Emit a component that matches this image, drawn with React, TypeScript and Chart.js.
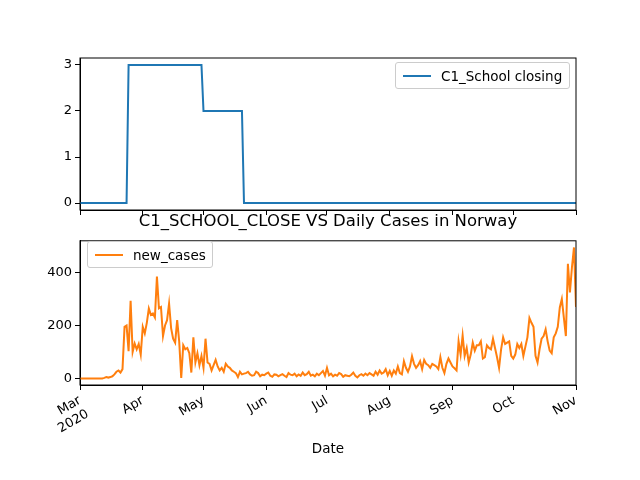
import { useEffect, useRef } from "react";
import { Chart, registerables } from "chart.js";

Chart.register(...registerables);

const MONTH_DAYS = [0, 31, 61, 92, 122, 153, 184, 214, 245];
const MONTH_LABELS = [["Mar", "2020"], "Apr", "May", "Jun", "Jul", "Aug", "Sep", "Oct", "Nov"];

// C1_School closing, as runs of [value, number of days] from 1 Mar 2020
const SCHOOL_RUNS = [[0, 24], [3, 37], [2, 20], [0, 165]];

// new_cases per day from 1 Mar 2020 to 1 Nov 2020
const NEW_CASES = [
  0, 0, 0, 0, 0, 0, 0, 0, 0, 0, 0, 0, 2, 5, 3, 5, 8,
  15, 25, 30, 22, 35,
  195, 200, 103, 293, 100, 132, 110, 130, 90,
  195, 170, 210, 264, 240, 245, 230, 385, 265, 270, 160,
  200, 220, 283, 190, 150, 135, 220, 140, 2, 125, 110, 115, 95, 22,
  155, 60, 95, 50, 85, 40, 150, 60, 55, 30, 50, 70, 45, 30,
  40, 25, 55, 45, 40, 30, 25, 20, 5, 25, 15, 18, 20, 25,
  15, 10, 12, 25, 20, 8, 14,
  12, 18, 22, 10, 6, 15, 14,
  8, 12, 16, 10, 5, 20, 14,
  12, 18, 8, 15, 10, 22, 12,
  16, 25, 10, 14, 8, 18, 12,
  20, 28, 10, 40, 12, 18, 8,
  14, 10, 20, 16, 6, 12, 10,
  8, 14, 22, 10, 4, 12, 16,
  10, 18, 12, 20, 15, 10, 25,
  14, 30, 18, 22, 35, 12, 28,
  10, 30, 18, 45, 20,
  15, 65, 40, 25, 45, 84, 55, 40, 50, 65, 35, 70, 55, 50, 40, 55, 50, 45, 35, 80,
  40, 20, 55, 75, 60, 45, 38, 30, 140, 90, 162, 85, 115, 60, 90, 135, 105, 125, 125, 140,
  75, 80, 125, 115, 110, 150, 115, 80, 40, 110, 155, 130, 135, 140, 85, 75, 90, 130, 115, 130,
  85, 120, 155, 228, 210, 195, 85, 60, 110, 150, 160, 185, 140, 105, 95, 155, 170, 195, 268, 300,
  230, 160, 433, 325, 420, 495, 270,
];

const FONT = "'DejaVu Sans', sans-serif";

const frame = {
  id: "frame",
  afterDraw(chart: any) {
    const { ctx, chartArea: a } = chart;
    ctx.save();
    ctx.strokeStyle = "#000";
    ctx.lineWidth = 1;
    ctx.strokeRect(a.left, a.top, a.right - a.left, a.bottom - a.top);
    ctx.restore();
  },
};

function makeOptions(yTicks: number[], yMin: number, yMax: number, showX: boolean, xHeight: number) {
  return {
    animation: false,
    responsive: false,
    layout: { padding: { left: 0, right: 64, top: 0, bottom: 0 } },
    plugins: { legend: { display: false }, tooltip: { enabled: false } },
    scales: {
      x: {
        type: "linear",
        min: 0,
        max: 245,
        afterBuildTicks: (s: any) => { s.ticks = MONTH_DAYS.map((v) => ({ value: v })); },
        afterFit: (s: any) => { s.height = xHeight; },
        grid: { drawOnChartArea: false, color: "#000", tickLength: 5 },
        border: { color: "#000" },
        ticks: {
          display: showX,
          color: "#000",
          font: { family: FONT, size: 13 },
          maxRotation: 30,
          minRotation: 30,
          autoSkip: false,
          callback: (v: number) => MONTH_LABELS[MONTH_DAYS.indexOf(v)],
        },
      },
      y: {
        min: yMin,
        max: yMax,
        afterBuildTicks: (s: any) => { s.ticks = yTicks.map((v) => ({ value: v })); },
        afterFit: (s: any) => { s.width = 80; },
        grid: { drawOnChartArea: false, color: "#000", tickLength: 5 },
        border: { color: "#000" },
        ticks: { color: "#000", font: { family: FONT, size: 13 } },
      },
    },
  };
}

function School() {
  const ref = useRef<HTMLCanvasElement | null>(null);
  useEffect(() => {
    if (!ref.current) return;
    const values: number[] = [];
    SCHOOL_RUNS.forEach(([v, n]) => { for (let i = 0; i < n; i++) values.push(v); });
    const opts: any = makeOptions([0, 1, 2, 3], -0.15, 3.15, false, 20);
    opts.layout.padding.top = 58;
    const chart = new Chart(ref.current, {
      type: "line",
      data: {
        datasets: [{
          data: values.map((y, x) => ({ x, y })),
          borderColor: "#1f77b4",
          borderWidth: 2,
          pointRadius: 0,
          fill: false,
        }],
      },
      options: opts,
      plugins: [frame],
    });
    return () => chart.destroy();
  }, []);
  return <canvas ref={ref} width={640} height={230} style={{ position: "absolute", left: 0, top: 0 }} />;
}

function Cases() {
  const ref = useRef<HTMLCanvasElement | null>(null);
  useEffect(() => {
    if (!ref.current) return;
    const opts: any = makeOptions([0, 200, 400], -25, 520, true, 95);
    opts.layout.padding.top = 6;
    const chart = new Chart(ref.current, {
      type: "line",
      data: {
        datasets: [{
          data: NEW_CASES.map((y, x) => ({ x, y })),
          borderColor: "#ff7f0e",
          borderWidth: 2,
          pointRadius: 0,
          fill: false,
        }],
      },
      options: opts,
      plugins: [frame],
    });
    return () => chart.destroy();
  }, []);
  return <canvas ref={ref} width={640} height={480 - 230} style={{ position: "absolute", left: 0, top: 230 }} />;
}

function LegendBox({ left, top, width, color, label }: any) {
  return (
    <div style={{
      position: "absolute", left, top, width, height: 27, boxSizing: "border-box",
      border: "1px solid #ccc", borderRadius: 3, background: "rgba(255,255,255,0.8)",
      display: "flex", alignItems: "center", fontFamily: FONT, fontSize: 13.5,
    }}>
      <span style={{ display: "inline-block", width: 28, height: 2, background: color, margin: "0 10px 0 7px" }} />
      {label}
    </div>
  );
}

export default function App() {
  return (
    <div style={{ position: "absolute", left: 0, top: 0, width: 640, height: 480, background: "#fff" }}>
      <School />
      <Cases />
      <LegendBox left={395} top={62} width={175} color="#1f77b4" label="C1_School closing" />
      <LegendBox left={87} top={241} width={126} color="#ff7f0e" label="new_cases" />
      <div style={{ position: "absolute", left: 80, width: 496, top: 211, textAlign: "center", fontFamily: FONT, fontSize: 16.5 }}>
        C1_SCHOOL_CLOSE VS Daily Cases in Norway
      </div>
      <div style={{ position: "absolute", left: 80, width: 496, top: 440, textAlign: "center", fontFamily: FONT, fontSize: 13.5 }}>
        Date
      </div>
    </div>
  );
}
